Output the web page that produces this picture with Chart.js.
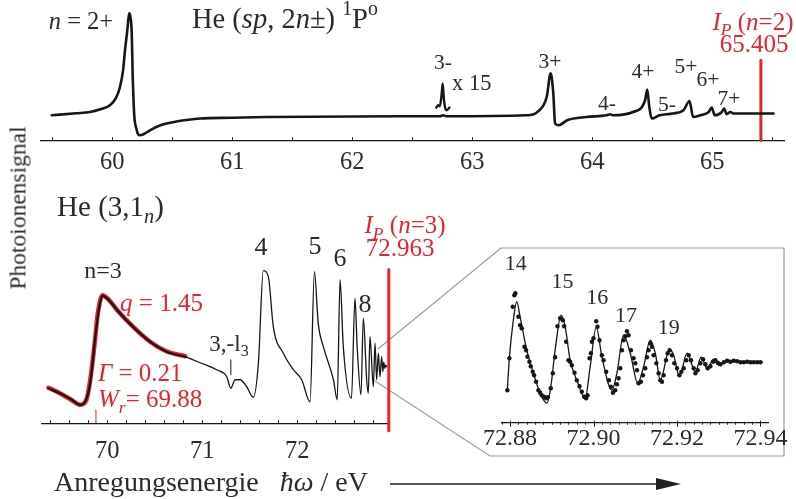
<!DOCTYPE html>
<html><head><meta charset="utf-8">
<script src="https://cdn.jsdelivr.net/npm/chart.js@4.4.1/dist/chart.umd.min.js"></script>
<style>
body{margin:0;background:#fff;}
#wrap{position:relative;width:796px;height:499px;overflow:hidden;font-family:"Liberation Serif",serif;color:#2b2b2b;background:#fff;}
canvas{position:absolute;}
.t{position:absolute;white-space:nowrap;}
</style></head><body>
<div id="wrap">
<svg width="796" height="499" style="position:absolute;left:0;top:0">
<polyline points="378,349 501,248 784,248 784,456 490,456 375,381" fill="none" stroke="#9c9c9c" stroke-width="1.2"/>
<line x1="390" y1="484" x2="662" y2="484" stroke="#222" stroke-width="1.6"/>
<polygon points="656,478 681,484 656,490" fill="#222"/>
</svg>
<canvas id="cA" width="796" height="180" style="left:0;top:0;width:796px;height:180px"></canvas>
<canvas id="cB" width="460" height="300" style="left:0;top:173px;width:460px;height:300px"></canvas>
<canvas id="cC" width="426" height="259" style="left:370px;top:240px;width:426px;height:259px"></canvas>
<div class="t" id="ylab" style="left:18px;top:208px;font-size:23.5px;transform:translate(-50%,-50%) rotate(-90deg);">Photoionensignal</div>
<div class="t" id="xlab" style="left:54px;top:466px;font-size:28px;">Anregungsenergie&nbsp;&nbsp; <i>ħω</i> / eV</div>
</div>
<script>
// ---------- data: He (sp,2n±) 1Po spectrum (top) ----------
const topE = [59.495,59.7,59.814,59.9,59.98,60.03,60.064,60.09,60.106,60.125,60.135,60.142,60.15,60.162,60.17,60.183,60.2,60.215,60.231,60.26,60.314,60.38,60.453,60.6,60.731,61.0,61.287,62.398,62.73,62.76,62.78,63.45,63.56,63.62,63.653,63.675,63.69,63.72,63.79,63.95,64.12,64.15,64.17,64.34,64.44,64.458,64.475,64.495,64.56,64.67,64.76,64.81,64.84,64.90,64.97,64.995,65.02,65.08,65.098,65.12,65.15,65.175,65.31,65.51];
const topS = [1.00,1.08,1.13,1.24,1.40,1.68,2.13,2.8,3.60,4.4,4.88,5.07,4.95,4.28,2.6,1.00,0.48,0.24,0.20,0.24,0.40,0.56,0.67,0.80,0.87,0.90,0.93,0.96,0.96,1.0,0.96,1.00,1.20,1.73,2.67,1.87,0.67,0.60,0.80,0.93,1.00,1.04,1.00,1.13,1.60,2.03,1.33,0.87,1.00,1.07,1.20,1.57,0.93,1.00,1.13,1.31,1.00,1.13,1.27,1.04,1.13,1.07,1.07,1.07];
const x15E = [62.70,62.715,62.73,62.745,62.753,62.764,62.775,62.787,62.81];
const x15S = [1.31,1.40,1.36,1.87,2.27,1.6,1.27,1.20,1.31];
const ipTopE = 65.405, ipTopH = 3.2;
const topTickVals = [59.5,60,60.5,61,61.5,62,62.5,63,63.5,64,64.5,65,65.5];
const topTickLabels = ['','60','','61','','62','','63','','64','','65',''];

// ---------- data: He (3,1n) spectrum (bottom left) ----------
const botE = [69.379,69.502,69.625,69.713,69.776,69.825,69.87,69.905,69.95,70.01,70.10,70.27,70.45,70.625,70.82,70.976,71.15,71.257,71.30,71.344,71.397,71.467,71.537,71.59,71.642,71.695,71.747,71.853,71.958,72.046,72.134,72.18,72.22,72.274,72.38,72.42,72.45,72.484,72.57,72.607,72.63,72.67,72.695,72.73,72.747,72.765,72.80,72.818,72.835,72.853,72.87,72.888,72.90,72.91,72.92,72.93,72.94];
const botV = [0.70,0.60,0.47,0.37,0.47,0.87,1.67,2.20,2.55,2.47,2.27,1.93,1.63,1.43,1.33,1.21,1.07,0.93,0.70,0.87,0.87,0.73,0.52,1.20,3.05,2.93,1.93,1.40,1.07,0.87,0.43,3.03,2.00,1.53,0.87,0.47,2.87,1.53,0.50,2.50,1.53,0.57,2.10,0.87,0.60,1.73,0.73,1.60,0.87,1.40,0.93,1.33,1.03,1.22,1.10,1.16,1.13];
const fitE = [69.38,69.50,69.62,69.71,69.78,69.82,69.87,69.90,69.95,70.01,70.10,70.27,70.45,70.62,70.82];
const fitV = [0.71,0.60,0.47,0.37,0.47,0.87,1.66,2.20,2.56,2.48,2.27,1.93,1.63,1.44,1.34];
const ipBotE = 72.963, wrE = 69.88, dipE = 71.30;
const botTickVals = [69.4,69.6,69.8,70,70.2,70.4,70.6,70.8,71,71.2,71.4,71.6,71.8,72,72.2,72.4,72.6,72.8];
const botTickLabels = ['','','','70','','','','','71','','','','','72','','','',''];

// ---------- data: inset 72.88 - 72.94 ----------
const insE = [72.87935,72.87983,72.88079,72.88161,72.8824,72.88401,72.8856,72.8872,72.88881,72.88977,72.8908,72.89224,72.8932,72.8944,72.8960,72.8980,72.8992,72.90065,72.9020,72.9044,72.9056,72.9072,72.9088,72.9106,72.9120,72.9136,72.9148,72.9160,72.9182,72.9192,72.9206,72.9224,72.9244,72.9258,72.9272,72.9288,72.9300,72.9320,72.9344,72.9404];
const insW = [0.65,1.29,2.05,2.42,2.12,1.45,0.99,0.59,0.39,0.72,1.45,2.15,1.92,1.25,0.85,0.49,1.12,1.91,1.32,0.65,0.99,1.75,1.39,0.79,1.12,1.65,1.39,0.85,1.47,1.35,0.92,1.39,1.02,1.31,1.09,1.27,1.15,1.25,1.22,1.22];
const dotE = [72.87936,72.87984,72.88064,72.88104,72.88128,72.882,72.8824,72.8828,72.88344,72.88384,72.88416,72.88464,72.88496,72.88544,72.88576,72.88624,72.8868,72.8872,72.8876,72.88816,72.88864,72.88904,72.88976,72.89024,72.8908,72.89136,72.892,72.89264,72.89296,72.89344,72.894,72.8944,72.8948,72.89544,72.896,72.89664,72.8972,72.89776,72.89824,72.89856,72.89904,72.89936,72.8996,72.9,72.90064,72.90096,72.90144,72.902,72.9024,72.90304,72.90368,72.90416,72.90464,72.9052,72.9056,72.906,72.9064,72.9068,72.9072,72.9076,72.908,72.9084,72.90896,72.9096,72.91,72.9104,72.9108,72.91136,72.91184,72.9124,72.9128,72.9132,72.9136,72.914,72.9144,72.91504,72.9156,72.916,72.9164,72.9168,72.91736,72.91776,72.91824,72.9188,72.91936,72.92,72.92056,72.92104,72.9216,72.92224,72.9228,72.92336,72.924,72.9244,72.92496,72.9256,72.92624,72.9268,72.92736,72.928,72.92864,72.9292,72.92976,72.9304,72.9312,72.932,72.9328,72.9336,72.9344,72.9352,72.936,72.9368,72.9376,72.9384,72.9392,72.94];
const dotW = [0.65,1.29,2.32,2.55,2.59,2.12,1.95,1.89,1.52,1.45,1.32,1.22,1.13,1.02,0.95,0.82,0.65,0.60,0.55,0.52,0.49,0.51,0.69,0.99,1.31,1.93,2.09,2.05,1.93,1.62,1.25,1.22,1.15,1.00,0.85,0.73,0.62,0.52,0.49,0.55,1.29,1.39,1.62,1.69,2.03,1.92,1.65,1.35,1.25,1.02,0.85,0.72,0.60,0.65,0.77,0.89,1.09,1.45,1.65,1.73,1.83,1.75,1.45,1.29,1.19,1.05,0.79,0.82,0.95,1.09,1.31,1.45,1.59,1.52,1.35,1.19,0.99,0.85,0.82,0.95,1.25,1.39,1.45,1.35,1.19,1.09,0.95,1.02,1.09,1.25,1.35,1.25,1.09,0.99,1.05,1.19,1.27,1.17,1.09,1.13,1.22,1.25,1.20,1.17,1.21,1.24,1.22,1.24,1.23,1.21,1.21,1.22,1.21,1.21,1.21,1.21];
const insTickVals = [72.878,72.880,72.882,72.884,72.886,72.888,72.890,72.892,72.894,72.896,72.898,72.900,72.902,72.904,72.906,72.908,72.910,72.912,72.914,72.916,72.918,72.920,72.922,72.924,72.926,72.928,72.930,72.932,72.934,72.936,72.938,72.940];
const insTickLabels = ['','72.88','','','','','','','','','','72.90','','','','','','','','','','72.92','','','','','','','','','','72.94'];

// ---------- styling ----------
const SERIF = '"Liberation Serif", "Times New Roman", serif';
const RED = '#e3262b', INK = '#161616', TXT = '#2b2b2b';
const pts = (xs, ys) => xs.map((x, i) => ({x, y: ys[i]}));

function drawRich(ctx, x, y, segs, size, color, align) {
  const parts = segs.map(([t, st]) => {
    const it = st.indexOf('i') === 0;
    const sub = st.indexOf('sub') >= 0, sup = st.indexOf('sup') >= 0;
    const fs = (sub || sup) ? size * 0.7 : size;
    const font = (it ? 'italic ' : '') + fs.toFixed(1) + 'px ' + SERIF;
    ctx.font = font;
    const w = ctx.measureText(t).width;
    const dy = sub ? size * 0.3 : sup ? -size * 0.36 : 0;
    return {t, font, w, dy};
  });
  const total = parts.reduce((a, p) => a + p.w, 0);
  let cx = align === 'left' ? x : align === 'right' ? x - total : x - total / 2;
  ctx.save();
  ctx.fillStyle = color; ctx.textBaseline = 'middle'; ctx.textAlign = 'left';
  for (const p of parts) { ctx.font = p.font; ctx.fillText(p.t, cx, y + p.dy); cx += p.w; }
  ctx.restore();
}
function labelPlugin(items) {
  return { id: 'richLabels', afterDatasetsDraw(chart) {
    const sx = chart.scales.x, sy = chart.scales.y;
    items.forEach(it => drawRich(chart.ctx, sx.getPixelForValue(it.x), sy.getPixelForValue(it.y), it.segs, it.size, it.color || TXT, it.align || 'center'));
  }};
}
function tickPlugin(cfg) {
  return { id: 'inTicks', afterDraw(chart) {
    const s = chart.scales.x, ctx = chart.ctx, y0 = chart.chartArea.bottom;
    ctx.save(); ctx.strokeStyle = INK; ctx.lineWidth = 1;
    s.ticks.forEach((t, i) => {
      const px = Math.round(s.getPixelForValue(t.value)) + 0.5;
      const major = cfg.labels[i] !== '';
      ctx.beginPath();
      ctx.moveTo(px, y0 - (major ? cfg.upMaj : cfg.upMin));
      ctx.lineTo(px, y0 + (major ? cfg.dnMaj : cfg.dnMin));
      ctx.stroke();
    });
    ctx.restore();
  }};
}
function options(xmin, xmax, ymin, ymax, pad, axisH, tickVals, tickLabels, fsize, tpad) {
  return {
    responsive: false, animation: false, devicePixelRatio: 1,
    layout: {padding: pad},
    elements: {point: {radius: 0}, line: {tension: 0.4, cubicInterpolationMode: 'monotone', borderCapStyle: 'round', borderJoinStyle: 'round'}},
    plugins: {legend: {display: false}, tooltip: {enabled: false}},
    scales: {
      x: {type: 'linear', min: xmin, max: xmax,
        afterBuildTicks: s => { s.ticks = tickVals.map(v => ({value: v})); },
        afterFit: s => { s.height = axisH; },
        ticks: {callback: (v, i) => tickLabels[i], autoSkip: false, maxRotation: 0, minRotation: 0, includeBounds: false,
          font: {family: SERIF, size: fsize}, color: TXT, padding: tpad},
        grid: {display: false, drawTicks: false},
        border: {display: true, color: INK, width: 1.2}},
      y: {type: 'linear', display: false, min: ymin, max: ymax}
    }
  };
}
const sm = (t) => [[t, '']];
const ipSegs = (n) => [['I', 'i'], ['P', 'isub'], [' (', ''], ['n', 'i'], ['=' + n + ')', '']];

// ---------- chart A ----------
const labelsA = [
  {x: 59.739, y: 4.68, segs: [['n', 'i'], [' = 2+', '']], size: 24.5},
  {x: 60.664, y: 4.8, align: 'left', size: 28.5, segs: [['He (', ''], ['sp', 'i'], [', 2', ''], ['n', 'i'], ['±) ', ''], ['1', 'sup'], ['P', ''], ['o', 'sup']]},
  {x: 62.756, y: 3.08, segs: sm('3-'), size: 21.5},
  {x: 62.831, y: 2.24, align: 'left', segs: sm('x 15'), size: 22.5},
  {x: 63.648, y: 3.12, segs: sm('3+'), size: 21.5},
  {x: 64.123, y: 1.44, segs: sm('4-'), size: 21.5},
  {x: 64.423, y: 2.72, segs: sm('4+'), size: 21.5},
  {x: 64.623, y: 1.40, segs: sm('5-'), size: 21.5},
  {x: 64.781, y: 2.92, segs: sm('5+'), size: 21.5},
  {x: 64.964, y: 2.40, segs: sm('6+'), size: 21.5},
  {x: 65.139, y: 1.64, segs: sm('7+'), size: 21.5},
  {x: 65.339, y: 4.68, segs: ipSegs(2), size: 25, color: RED},
  {x: 65.348, y: 3.8, segs: sm('65.405'), size: 25, color: RED}
];
new Chart(document.getElementById('cA'), {
  type: 'line',
  data: {datasets: [
    {data: pts(topE, topS), borderColor: INK, borderWidth: 2.6},
    {data: pts(x15E, x15S), borderColor: INK, borderWidth: 2.4},
    {data: [{x: ipTopE, y: 0}, {x: ipTopE, y: ipTopH}], borderColor: RED, borderWidth: 3, tension: 0, cubicInterpolationMode: 'default', clip: false}
  ]},
  options: options(59.4, 65.6, 0, 5.6, {left: 40.3, right: 11.7, top: 0, bottom: 0}, 39.7, topTickVals, topTickLabels, 24.5, 8),
  plugins: [labelPlugin(labelsA), tickPlugin({labels: topTickLabels, upMaj: 3, upMin: 3, dnMaj: 0, dnMin: 0})]
});

// ---------- chart B ----------
const labelsB = [
  {x: 69.471, y: 4.29, align: 'left', size: 29, segs: [['He (3,1', ''], ['n', 'isub'], [')', '']]},
  {x: 69.955, y: 3.03, segs: sm('n=3'), size: 24},
  {x: 70.134, y: 2.37, align: 'left', size: 25, color: RED, segs: [['q', 'i'], [' = 1.45', '']]},
  {x: 71.281, y: 1.57, size: 23, segs: [['3,-l', ''], ['3', 'sub']]},
  {x: 69.902, y: 0.97, align: 'left', size: 25, color: RED, segs: [['Γ', 'i'], [' = 0.21', '']]},
  {x: 69.902, y: 0.45, align: 'left', size: 25, color: RED, segs: [['W', 'i'], ['r', 'isub'], ['= 69.88', '']]},
  {x: 71.618, y: 3.49, segs: sm('4'), size: 26},
  {x: 72.187, y: 3.51, segs: sm('5'), size: 26},
  {x: 72.45, y: 3.27, segs: sm('6'), size: 26},
  {x: 72.713, y: 2.35, segs: sm('8'), size: 26},
  {x: 73.134, y: 3.93, segs: ipSegs(3), size: 25, color: RED},
  {x: 73.081, y: 3.47, segs: sm('72.963'), size: 25, color: RED}
];
new Chart(document.getElementById('cB'), {
  type: 'line',
  data: {datasets: [
    {data: pts(botE.slice(0, 15), botV.slice(0, 15)), borderColor: INK, borderWidth: 2.2, order: 1},
    {data: pts(botE.slice(14), botV.slice(14)), borderColor: INK, borderWidth: 1.3, order: 1},
    {data: pts(fitE, fitV), borderColor: RED, borderWidth: 4.5, order: 3},
    {data: [{x: ipBotE, y: -0.15}, {x: ipBotE, y: 3.07}], borderColor: RED, borderWidth: 3, tension: 0, cubicInterpolationMode: 'default', clip: false, order: 0},
    {data: [{x: wrE, y: 0}, {x: wrE, y: 0.27}], borderColor: RED, borderWidth: 1, tension: 0, cubicInterpolationMode: 'default', order: 0},
    {data: [{x: dipE, y: 0.97}, {x: dipE, y: 1.27}], borderColor: INK, borderWidth: 1, tension: 0, cubicInterpolationMode: 'default', order: 0}
  ]},
  options: options(69.31, 72.963, 0, 5, {left: 41.8, right: 71.2, top: 0, bottom: 0}, 49.7, botTickVals, botTickLabels, 24.5, 14),
  plugins: [labelPlugin(labelsB), tickPlugin({labels: botTickLabels, upMaj: 3, upMin: 3, dnMaj: 0, dnMin: 0})]
});

// ---------- chart C (inset) ----------
const labelsC = [
  {x: 72.88137, y: 3.17, segs: sm('14'), size: 22},
  {x: 72.89256, y: 2.81, segs: sm('15'), size: 22},
  {x: 72.90089, y: 2.49, segs: sm('16'), size: 22},
  {x: 72.90778, y: 2.13, segs: sm('17'), size: 22},
  {x: 72.918, y: 1.89, segs: sm('19'), size: 22}
];
new Chart(document.getElementById('cC'), {
  type: 'line',
  data: {datasets: [
    {data: pts(insE, insW), borderColor: INK, borderWidth: 1.3, order: 2},
    {data: pts(dotE, dotW), showLine: false, pointRadius: 2.2, pointBackgroundColor: INK, pointBorderWidth: 0, order: 1}
  ]},
  options: options(72.878, 72.9418, 0, 3.494, {left: 131.7, right: 28, top: 8, bottom: 0}, 76.3, insTickVals, insTickLabels, 24, 2),
  plugins: [labelPlugin(labelsC), tickPlugin({labels: insTickLabels, upMaj: 2, upMin: 1, dnMaj: 4, dnMin: 2})]
});
</script>
</body></html>
